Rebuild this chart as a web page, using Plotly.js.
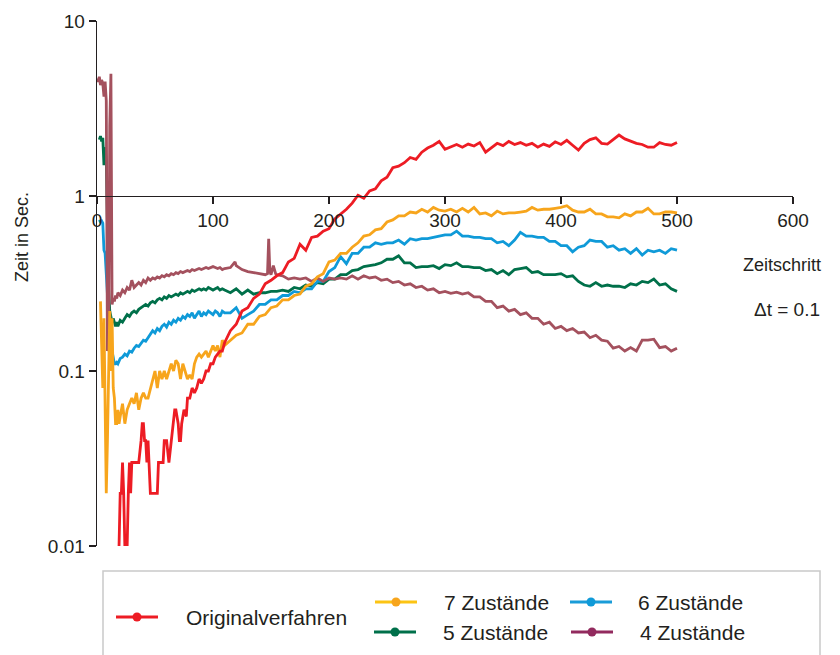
<!DOCTYPE html>
<html>
<head>
<meta charset="utf-8">
<script src="https://cdn.plot.ly/plotly-3.0.1.min.js"></script>
<style>
  html, body { margin: 0; padding: 0; background: #ffffff; }
  #chart { width: 840px; height: 655px; }
</style>
</head>
<body>
<div id="chart"></div>
<script>
// Axis ticks
const xTicks = [0, 100, 200, 300, 400, 500, 600];
const yTicks = [0.01, 0.1, 1, 10];
const yTickText = ['0.01', '0.1', '1', '10'];

// Series names (legend order)
const seriesNames = ['Originalverfahren', '7 Zustände', '6 Zustände', '5 Zustände', '4 Zustände'];

// Originalverfahren
const origT = [18,19,20,21,22,23,24,25,26,27,28,29,30,32,34,36,38,39,40,41,42,43,44,45,46,48,50,52,53,55,57,58,60,62,64,66,67,68,70,71,72,73,75,77,78,80,82,84,86,88,90,92,94,96,98,100,102,104,106,108,110,
  115,120,125,130,135,140,145,150,155,160,165,170,175,180,185,190,195,200,205,210,215,220,225,230,235,240,245,250,255,260,
  265,270,275,280,285,290,295,300,305,310,315,320,325,330,335,340,345,350,355,360,365,370,375,380,385,390,395,400,405,410,
  415,420,425,430,435,440,445,450,455,460,465,470,475,480,485,490,495,500];
const origV = [0.01,0.01,0.02,0.02,0.03,0.02,0.01,0.01,0.01,0.02,0.03,0.02,0.03,0.03,0.03,0.03,0.04,0.05,0.05,0.04,0.04,0.03,0.04,0.03,0.02,0.02,0.02,0.02,0.03,0.03,0.03,0.04,0.04,0.03,0.04,0.05,0.06,0.06,0.05,0.04,0.04,0.05,0.06,0.055,0.07,0.07,0.08,0.075,0.08,0.09,0.085,0.09,0.1,0.1,0.11,0.11,0.12,0.125,0.13,0.13,0.145,
  0.17,0.185,0.22,0.23,0.26,0.275,0.315,0.33,0.35,0.365,
  0.42,0.44,0.53,0.49,0.58,0.59,0.63,0.65,0.74,0.79,
  0.84,0.91,1.01,0.97,1.07,1.1,1.22,1.28,1.45,1.48,
  1.55,1.66,1.62,1.78,1.88,1.95,2.05,1.85,1.9,1.97,
  1.9,1.98,1.93,2.02,1.78,1.88,2.0,1.94,2.05,1.97,
  2.02,1.95,2.0,1.9,1.98,1.92,2.04,1.97,2.08,1.95,
  1.83,2.0,2.1,2.15,2.0,1.98,2.1,2.23,2.12,2.05,
  2.0,1.97,1.9,1.9,2.02,1.97,1.95,2.02];

// 7 Zustände
const z7T = [3,4,5,6,7,8,9,10,11,12,13,14,15,16,17,18,19,20,22,24,26,28,30,32,34,36,38,40,42,44,46,48,50,52,54,56,58,60,62,64,66,68,70,72,74,76,78,80,82,84,86,88,90,92,94,96,98,100,102,104,106,108,110,
  115,120,125,130,135,140,145,150,155,160,165,170,175,180,185,190,195,200,205,210,215,220,225,230,235,240,245,250,255,260,
  265,270,275,280,285,290,295,300,305,310,315,320,325,330,335,340,345,350,355,360,365,370,375,380,385,390,395,400,405,410,
  415,420,425,430,435,440,445,450,455,460,465,470,475,480,485,490,495,500];
const z7V = [0.25,0.12,0.08,0.2,0.06,0.02,0.04,0.12,0.22,0.1,0.2,0.08,0.07,0.05,0.05,0.06,0.05,0.055,
  0.065,0.05,0.06,0.065,0.07,0.065,0.075,0.06,0.07,0.075,0.07,0.07,0.08,0.09,0.1,0.08,0.1,0.09,0.1,0.09,0.1,0.11,0.1,0.115,0.11,0.09,0.11,0.1,0.09,0.095,0.09,0.11,0.12,0.125,0.12,0.125,0.13,0.12,0.13,0.14,0.13,0.14,0.12,0.15,0.14,
  0.15,0.16,0.165,0.185,0.185,0.205,0.21,0.23,0.235,0.255,
  0.255,0.27,0.275,0.305,0.315,0.345,0.36,0.42,0.43,0.47,
  0.47,0.51,0.54,0.59,0.6,0.64,0.65,0.71,0.73,0.77,
  0.77,0.81,0.8,0.84,0.81,0.86,0.83,0.82,0.84,0.81,
  0.85,0.81,0.86,0.79,0.8,0.77,0.82,0.79,0.8,0.8,
  0.81,0.82,0.86,0.83,0.84,0.84,0.85,0.86,0.88,0.83,
  0.81,0.81,0.84,0.79,0.79,0.76,0.76,0.75,0.79,0.77,
  0.81,0.81,0.85,0.79,0.79,0.81,0.81,0.8];

// 6 Zustände
const z6T = [2,3,4,5,6,7,8,9,10,11,12,13,14,15,16,17,18,20,22,24,26,28,30,32,34,36,38,40,42,44,46,48,50,52,54,56,58,60,62,64,66,68,70,72,74,76,78,80,82,84,86,88,90,92,94,96,98,100,102,104,106,108,110,
  115,120,125,130,135,140,145,150,155,160,165,170,175,180,185,190,195,200,205,210,215,220,225,230,235,240,245,250,255,260,
  265,270,275,280,285,290,295,300,305,310,315,320,325,330,335,340,345,350,355,360,365,370,375,380,385,390,395,400,405,410,
  415,420,425,430,435,440,445,450,455,460,465,470,475,480,485,490,495,500];
const z6V = [0.73,0.71,0.72,0.7,0.49,0.47,0.36,0.26,0.2,0.16,0.14,0.125,0.12,0.11,0.11,0.112,0.11,
  0.118,0.12,0.125,0.122,0.13,0.128,0.135,0.14,0.138,0.145,0.15,0.148,0.155,0.16,0.17,0.165,0.175,0.17,0.18,0.185,0.178,0.19,0.185,0.195,0.19,0.2,0.195,0.205,0.2,0.21,0.205,0.215,0.2,0.21,0.22,0.205,0.215,0.21,0.22,0.215,0.21,0.22,0.215,0.205,0.22,0.215,
  0.215,0.23,0.2,0.21,0.22,0.24,0.24,0.255,0.255,0.27,
  0.27,0.285,0.28,0.295,0.295,0.325,0.325,0.37,0.39,0.45,
  0.41,0.47,0.47,0.51,0.51,0.54,0.53,0.54,0.54,0.56,
  0.53,0.57,0.56,0.57,0.57,0.58,0.59,0.6,0.6,0.63,
  0.59,0.59,0.58,0.58,0.57,0.57,0.54,0.55,0.52,0.56,
  0.62,0.59,0.59,0.58,0.58,0.55,0.55,0.52,0.52,0.48,
  0.51,0.52,0.56,0.55,0.55,0.51,0.52,0.49,0.5,0.47,
  0.5,0.46,0.49,0.48,0.49,0.47,0.5,0.49];

// 5 Zustände
const z5T = [2,3,4,5,6,7,8,9,10,11,12,13,14,15,16,17,18,20,22,24,26,28,30,32,34,36,38,40,42,44,46,48,50,52,54,56,58,60,62,64,66,68,70,72,74,76,78,80,82,84,86,88,90,92,94,96,98,100,102,104,106,108,110,
  115,120,125,130,135,140,145,150,155,160,165,170,175,180,185,190,195,200,205,210,215,220,225,230,235,240,245,250,255,260,
  265,270,275,280,285,290,295,300,305,310,315,320,325,330,335,340,345,350,355,360,365,370,375,380,385,390,395,400,405,410,
  415,420,425,430,435,440,445,450,455,460,465,470,475,480,485,490,495,500];
const z5V = [2.1,2.2,2.05,2.15,1.5,1.9,1.6,0.6,0.3,0.22,0.2,0.19,0.2,0.185,0.18,0.19,0.18,
  0.195,0.19,0.2,0.21,0.205,0.215,0.22,0.215,0.225,0.23,0.235,0.24,0.235,0.245,0.25,0.245,0.255,0.26,0.255,0.265,0.26,0.27,0.265,0.27,0.275,0.27,0.28,0.275,0.28,0.285,0.28,0.29,0.285,0.29,0.295,0.29,0.295,0.29,0.3,0.295,0.29,0.295,0.3,0.29,0.295,0.29,
  0.28,0.295,0.275,0.29,0.275,0.28,0.28,0.285,0.285,0.29,
  0.285,0.3,0.295,0.31,0.305,0.32,0.315,0.335,0.335,0.355,
  0.355,0.375,0.38,0.395,0.4,0.405,0.415,0.435,0.435,0.455,
  0.415,0.415,0.39,0.395,0.395,0.4,0.385,0.405,0.4,0.415,
  0.395,0.395,0.39,0.39,0.375,0.38,0.36,0.375,0.355,0.38,
  0.385,0.39,0.365,0.37,0.355,0.355,0.355,0.36,0.345,0.35,
  0.325,0.31,0.305,0.32,0.305,0.31,0.305,0.305,0.3,0.315,
  0.31,0.325,0.32,0.335,0.31,0.315,0.295,0.285];

// 4 Zustände
const z4T = [0,1,2,3,4,5,6,7,8,9,10,11,12,13,14,15,16,17,18,20,22,24,26,28,30,32,34,36,38,40,42,44,46,48,50,52,54,56,58,60,62,64,66,68,70,72,74,76,78,80,82,84,86,88,90,92,94,96,98,100,102,104,106,108,110,
  115,119,120,125,130,135,140,145,147,148,149,150,152,154,155,
  160,165,170,175,180,185,190,195,200,205,210,215,220,225,230,235,240,245,250,255,
  260,265,270,275,280,285,290,295,300,305,310,315,320,325,330,335,340,345,350,355,
  360,365,370,375,380,385,390,395,400,405,410,415,420,425,430,435,440,445,450,455,
  460,465,470,475,480,485,490,495,500];
const z4V = [4.7,4.5,4.8,4.3,4.6,4.4,3.7,4.5,3.5,0.13,0.14,2.5,5.0,0.24,0.26,0.25,0.27,0.26,0.28,
  0.27,0.29,0.28,0.3,0.29,0.33,0.3,0.31,0.32,0.31,0.33,0.32,0.34,0.33,0.34,0.335,0.345,0.34,0.35,0.345,0.355,0.35,0.36,0.355,0.365,0.36,0.37,0.365,0.37,0.375,0.37,0.38,0.375,0.38,0.385,0.38,0.385,0.39,0.385,0.39,0.395,0.39,0.385,0.39,0.38,0.385,
  0.39,0.42,0.4,0.38,0.37,0.365,0.36,0.355,0.36,0.57,0.37,0.355,0.4,0.36,0.355,
  0.35,0.335,0.34,0.335,0.34,0.325,0.34,0.325,0.34,0.335,0.34,0.335,0.35,0.335,0.35,0.34,0.345,0.33,0.335,0.32,
  0.325,0.31,0.315,0.3,0.305,0.29,0.295,0.28,0.285,0.278,0.282,0.275,0.28,0.265,0.265,0.25,0.25,0.23,0.235,0.22,
  0.225,0.21,0.215,0.2,0.2,0.185,0.19,0.175,0.18,0.17,0.175,0.165,0.167,0.155,0.16,0.15,0.148,0.135,0.138,0.13,
  0.136,0.13,0.15,0.15,0.152,0.136,0.138,0.13,0.135];

// Colours
const lineColors = ['#ed1c24', '#f7a51c', '#0f9ad8', '#00704a', '#a4515e'];
const legendLineColors = ['#ed1c24', '#fcc414', '#1a9cd8', '#00704a', '#922a5e'];
const legendDotColors = ['#ed1c24', '#f7a51c', '#0f9ad8', '#00704a', '#922a5e'];

const FONT = 'Liberation Sans, Arial, Helvetica, sans-serif';
const INK = '#231f20';

// plot area in pixels
const PL = 97, PT = 21, PW = 696, PH = 525;
const px = v => (v - PL) / PW;
const py = v => (PT + PH - v) / PH;

function line(i, t, v) {
  return {
    type: 'scatter', mode: 'lines', name: seriesNames[i], x: t, y: v,
    line: { color: lineColors[i], width: 2.8 }, showlegend: false, hoverinfo: 'skip'
  };
}

// draw order: 5, 6, 4, 7 Zustände, then Originalverfahren on top
const traces = [
  line(3, z5T, z5V),
  line(2, z6T, z6V),
  line(4, z4T, z4V),
  line(1, z7T, z7V),
  line(0, origT, origV)
];

// legend layout: [line start, line end, centre y, text x]
const legendSlots = [
  [116, 158, 617, 184],
  [375, 417, 602, 442],
  [570, 612, 602, 636],
  [374, 416, 632, 441],
  [571, 613, 632, 638]
];

const shapes = [{
  type: 'rect', xref: 'paper', yref: 'paper',
  x0: px(103), x1: px(820), y0: py(571), y1: py(662),
  line: { color: '#c9c9c9', width: 1.5 }, fillcolor: 'rgba(0,0,0,0)'
}];
const annotations = [];

legendSlots.forEach((s, i) => {
  shapes.push({
    type: 'line', xref: 'paper', yref: 'paper',
    x0: px(s[0]), x1: px(s[1]), y0: py(s[2]), y1: py(s[2]),
    line: { color: legendLineColors[i], width: 3 }
  });
  shapes.push({
    type: 'circle', xref: 'paper', yref: 'paper',
    xsizemode: 'pixel', ysizemode: 'pixel',
    xanchor: px((s[0] + s[1]) / 2), yanchor: py(s[2]),
    x0: -4.5, x1: 4.5, y0: -4.5, y1: 4.5,
    fillcolor: legendDotColors[i], line: { width: 0 }
  });
  annotations.push({
    xref: 'paper', yref: 'paper', x: px(s[3]), y: py(s[2]),
    xanchor: 'left', yanchor: 'middle', showarrow: false,
    text: seriesNames[i], font: { family: FONT, size: 21, color: INK }
  });
});

annotations.push(
  { xref: 'paper', yref: 'paper', x: px(782), y: py(265), xanchor: 'center', yanchor: 'middle',
    showarrow: false, text: 'Zeitschritt', font: { family: FONT, size: 18, color: INK } },
  { xref: 'paper', yref: 'paper', x: px(787), y: py(309), xanchor: 'center', yanchor: 'middle',
    showarrow: false, text: 'Δt = 0.1', font: { family: FONT, size: 19, color: INK } },
  { xref: 'paper', yref: 'paper', x: px(22), y: py(237), xanchor: 'center', yanchor: 'middle',
    showarrow: false, textangle: -90, text: 'Zeit in Sec.', font: { family: FONT, size: 18, color: INK } }
);

const layout = {
  width: 840, height: 655,
  margin: { l: PL, r: 840 - PL - PW, t: PT, b: 655 - PT - PH, pad: 0 },
  paper_bgcolor: '#ffffff', plot_bgcolor: '#ffffff',
  showlegend: false,
  font: { family: FONT, size: 19, color: INK },
  xaxis: {
    range: [0, 600], tickmode: 'array', tickvals: xTicks, ticktext: xTicks.map(String),
    anchor: 'free', position: 2 / 3,
    showline: true, linecolor: INK, linewidth: 1.4,
    ticks: 'outside', ticklen: 7, tickwidth: 1.4, tickcolor: INK,
    showgrid: false, zeroline: false,
    tickfont: { family: FONT, size: 19, color: INK }
  },
  yaxis: {
    type: 'log', range: [-2, 1], tickmode: 'array', tickvals: yTicks, ticktext: yTickText,
    showline: true, linecolor: INK, linewidth: 1.4,
    ticks: 'outside', ticklen: 7, tickwidth: 1.4, tickcolor: INK,
    showgrid: false, zeroline: false,
    tickfont: { family: FONT, size: 19, color: INK }
  },
  shapes: shapes,
  annotations: annotations
};

Plotly.newPlot('chart', traces, layout, { staticPlot: true, displayModeBar: false });
</script>
</body>
</html>
